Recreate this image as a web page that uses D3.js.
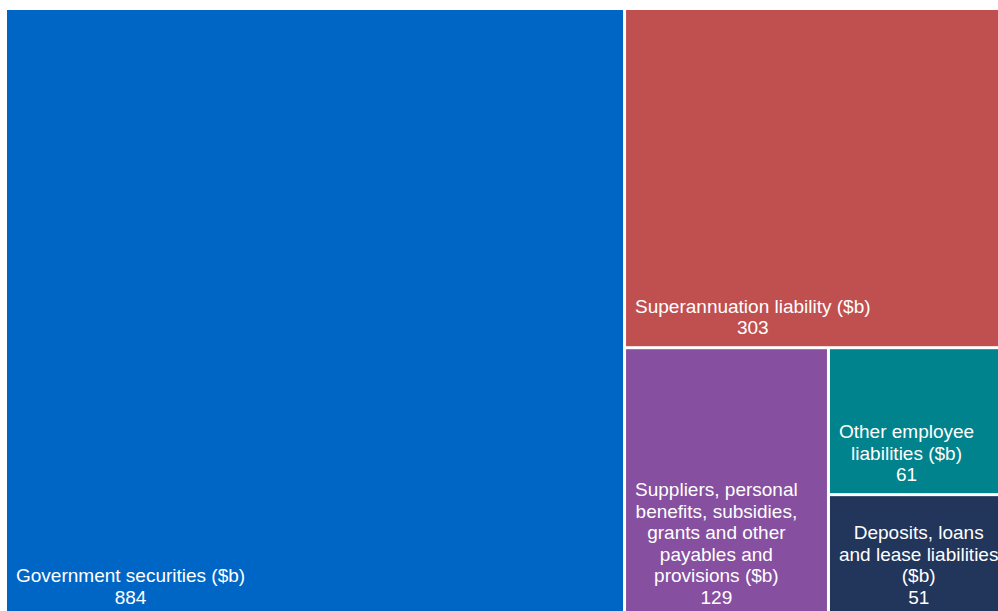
<!DOCTYPE html>
<html>
<head>
<meta charset="utf-8">
<script src="https://cdn.jsdelivr.net/npm/d3@7"></script>
<style>
  html, body { margin: 0; padding: 0; background: #fff; overflow: hidden; }
  svg { display: block; }
</style>
</head>
<body>
<svg id="chart" width="998" height="611"></svg>
<script>
// ---- data ----
const categories = [
  "Government securities ($b)",
  "Superannuation liability ($b)",
  "Suppliers, personal\nbenefits, subsidies,\ngrants and other\npayables and\nprovisions ($b)",
  "Other employee\nliabilities ($b)",
  "Deposits, loans\nand lease liabilities\n($b)"
];
const values = [884, 303, 129, 61, 51];
const colors = ["#0066C5", "#C0504F", "#864FA0", "#00838C", "#22355A"];

// ---- layout ----
const svg = d3.select("#chart");
const offX = 7, offY = 10, W = 997, H = 606;
const fontSize = 19, lineH = 21.6, padX = 9, padBottom = 12;

const rootData = { children: categories.map((c, i) => ({ name: c, value: values[i], color: colors[i] })) };
const root = d3.hierarchy(rootData).sum(d => d.value || 0);
d3.treemap().tile(d3.treemapBinary).size([W, H]).paddingInner(3).round(false)(root);

const g = svg.append("g").attr("transform", `translate(${offX},${offY})`);
const cells = g.selectAll("g.cell").data(root.leaves()).join("g").attr("class", "cell");

cells.append("rect")
  .attr("x", d => d.x0).attr("y", d => d.y0)
  .attr("width", d => d.x1 - d.x0).attr("height", d => d.y1 - d.y0)
  .attr("fill", d => d.data.color);

cells.each(function(d) {
  const lines = d.data.name.split("\n").concat([String(d.data.value)]);
  const t = d3.select(this).append("text")
    .attr("font-family", "'Liberation Sans', Arial, sans-serif")
    .attr("font-size", fontSize)
    .attr("fill", "#fff")
    .attr("text-anchor", "middle");
  const n = lines.length;
  const spans = lines.map((ln, i) => t.append("tspan")
    .attr("y", d.y1 - padBottom - (n - 1 - i) * lineH)
    .text(ln));
  const maxW = d3.max(spans, s => s.node().getComputedTextLength());
  const cx = d.x0 + padX + maxW / 2;
  spans.forEach(s => s.attr("x", cx));
});
</script>
</body>
</html>
